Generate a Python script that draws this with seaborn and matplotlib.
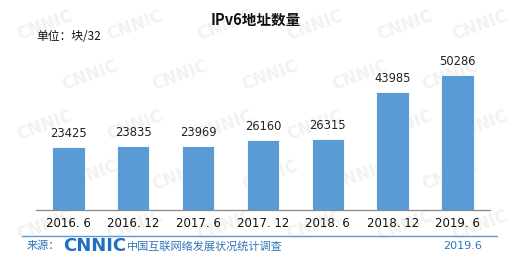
import matplotlib
matplotlib.use("Agg")
import matplotlib.pyplot as plt
import seaborn as sns
import pandas as pd
import numpy as np
from matplotlib.lines import Line2D

categories = ["2016. 6", "2016. 12", "2017. 6", "2017. 12", "2018. 6", "2018. 12", "2019. 6"]
values = [23425, 23835, 23969, 26160, 26315, 43985, 50286]

sns.set_theme(style="white")
plt.rcParams['font.family'] = ['Noto Sans CJK SC', 'DejaVu Sans']

df = pd.DataFrame({"period": categories, "count": values})

fig = plt.figure(figsize=(5.11, 2.64), dpi=100)
fig.patch.set_facecolor("white")

# faint watermark, kept behind the chart
wm_x = [45, 135, 225, 315, 405, 480]
wm_y = [25, 75, 125, 175, 225]
for r, yy in enumerate(wm_y):
    for xx in wm_x:
        x = xx + (45 if r % 2 else 0)
        if x > 485:
            continue
        fig.text(x / 511, 1 - yy / 264, "CNNIC", fontsize=12, fontweight="bold",
                 color="#f2f2f2", rotation=20, ha="center", va="center", zorder=-5,
                 family=['DejaVu Sans'])

ax = fig.add_axes([36 / 511, 54 / 264, 454 / 511, 161 / 264])
ax.set_facecolor("none")
ax.set_zorder(1)
sns.barplot(data=df, x="period", y="count", color="#5B9BD5", width=0.5,
            saturation=1, edgecolor="white", linewidth=0.6, ax=ax, zorder=3)

ax.set_ylim(0, 60000)
ax.set_xlim(-0.5, len(categories) - 0.5)
for i, v in enumerate(values):
    ax.text(i, v + 2600, str(v), ha="center", va="bottom", fontsize=8.3, color="#222222",
            family=['DejaVu Sans'])

ax.set_xlabel("")
ax.set_ylabel("")
ax.set_yticks([])
ax.set_xticks(range(len(categories)))
ax.set_xticklabels(categories, fontsize=8.5, color="#111111", family=['DejaVu Sans'])
ax.tick_params(axis="x", which="major", length=0, pad=5)
ax.set_xticks(np.arange(-0.5, len(categories), 1.0), minor=True)
ax.tick_params(axis="x", which="minor", length=4, direction="in", color="#888888", width=0.8)
for s in ["top", "right", "left"]:
    ax.spines[s].set_visible(False)
ax.spines["bottom"].set_color("#888888")
ax.spines["bottom"].set_linewidth(0.9)

fig.text(0.5, 1 - 20 / 264, "IPv6地址数量", ha="center", va="center", fontsize=10.5,
         fontweight="bold", color="#111111")
fig.text(36 / 511, 1 - 37 / 264, "单位：块/32", ha="left", va="center", fontsize=8.5, color="#111111")

# footer
fig.add_artist(Line2D([22 / 511, 497 / 511], [1 - 236 / 264, 1 - 236 / 264],
                      transform=fig.transFigure, color="#5B9BD5", linewidth=1.0))
blue = "#2E75B6"
fig.text(27 / 511, 1 - 246 / 264, "来源：", ha="left", va="center", fontsize=8, color=blue)
fig.text(63 / 511, 1 - 246 / 264, "CNNIC", ha="left", va="center", fontsize=13,
         fontweight="heavy", color="#1F6FC0", family=['DejaVu Sans'])
fig.text(127 / 511, 1 - 246 / 264, "中国互联网络发展状况统计调查", ha="left", va="center",
         fontsize=8, color=blue)
fig.text(482 / 511, 1 - 246 / 264, "2019.6", ha="right", va="center", fontsize=8, color=blue,
         family=['DejaVu Sans'])

fig.savefig("out.png", dpi=100, facecolor="white")
